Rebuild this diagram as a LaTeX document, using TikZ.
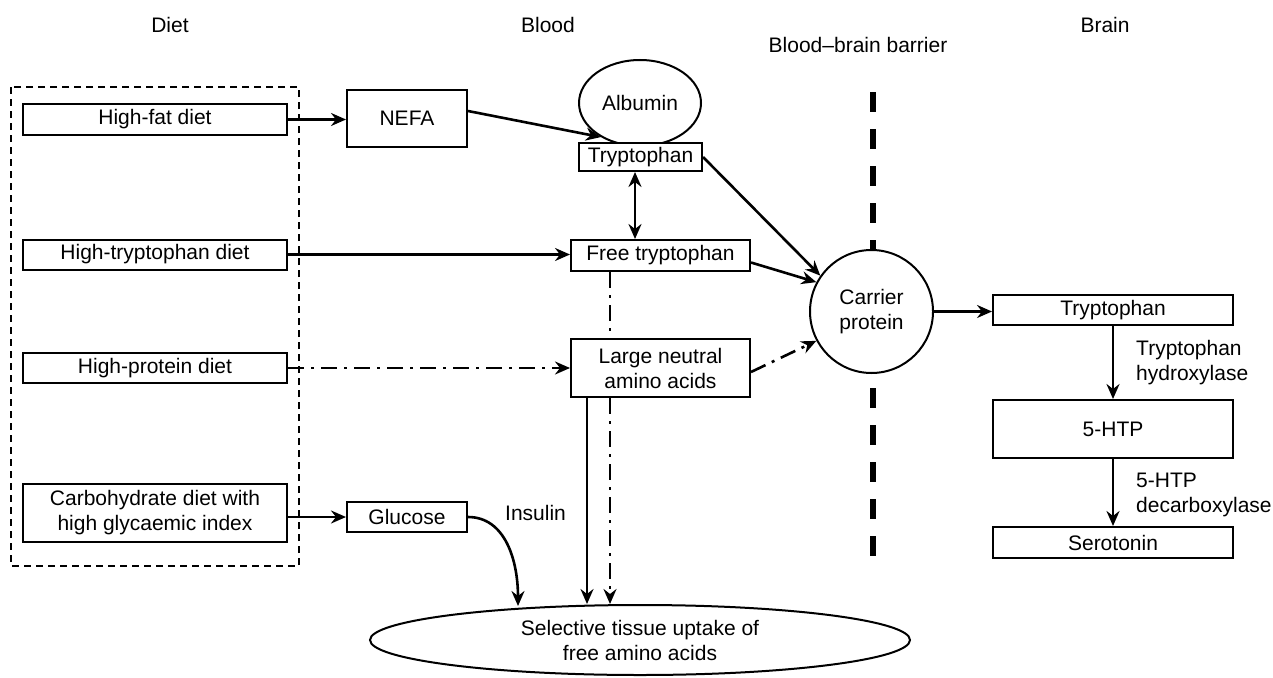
\documentclass[tikz,border=0pt]{standalone}
\usepackage{fontspec}
\setmainfont{Liberation Sans}
\usetikzlibrary{arrows.meta,shapes.geometric}
\begin{document}
\begin{tikzpicture}[x=1pt,y=-1pt,
  font=\fontsize{21}{25}\selectfont,
  box/.style={draw,line width=2pt,inner sep=0pt,align=center,fill=white},
  oval/.style={draw,line width=2pt,ellipse,inner sep=0pt,align=center,fill=white},
  tip/.style={Stealth[length=15pt,width=13pt,inset=5pt]},
  conn/.style={line width=2.6pt,-{Stealth[length=15pt,width=13pt,inset=5pt]}},
  biconn/.style={line width=2.6pt,{Stealth[length=15pt,width=13pt,inset=5pt]}-{Stealth[length=15pt,width=13pt,inset=5pt]}},
  dashdot/.style={dash pattern=on 16pt off 7pt on 3pt off 7pt},
  plainlink/.style={line width=2.6pt},
  header/.style={inner sep=0pt}]
\useasboundingbox (0,0) rectangle (1273,677);

% headers
\node[header] (hdiet) at (170,25) {Diet};
\node[header] (hblood) at (548,25) {Blood};
\node[header] (hbbb) at (858,45) {Blood–brain barrier};
\node[header] (hbrain) at (1105,25) {Brain};

% diet group
\draw[line width=2pt,dash pattern=on 7pt off 5pt] (11,87) rectangle (299,566);
\node[box,minimum width=264,minimum height=31] (hf) at (155,119.5) {High-fat diet};
\node[box,minimum width=264,minimum height=30] (ht) at (155,254.5) {High-tryptophan diet};
\node[box,minimum width=264,minimum height=30] (hp) at (155,368) {High-protein diet};
\node[box,minimum width=264,minimum height=58] (carb) at (155,513) {Carbohydrate diet with\\high glycaemic index};

% blood
\node[box,minimum width=120,minimum height=57] (nefa) at (407,118) {NEFA};
\node[box,minimum width=120,minimum height=30] (glu) at (407,517) {Glucose};
\node[oval,minimum width=122,minimum height=86] (alb) at (640,103) {Albumin};
\node[box,minimum width=123,minimum height=28] (trpb) at (640.5,157) {Tryptophan};
\node[box,minimum width=179,minimum height=31] (free) at (660.5,255.5) {Free tryptophan};
\node[box,minimum width=179,minimum height=58] (lnaa) at (660.5,368) {Large neutral\\amino acids};
\node[oval,minimum width=540,minimum height=70] (uptake) at (640,640) {Selective tissue uptake of\\free amino acids};
\node[header,anchor=west] (ins) at (505,513) {Insulin};

% barrier
\draw[line width=6pt,dash pattern=on 20pt off 17pt] (873,92) -- (873,566);
\node[oval,circle,minimum size=123] (carrier) at (871.5,311.5) {Carrier\\protein};

% brain
\node[box,minimum width=240,minimum height=30] (trpbr) at (1113,310) {Tryptophan};
\node[box,minimum width=240,minimum height=58] (htp) at (1113,429) {5-HTP};
\node[box,minimum width=240,minimum height=31] (sero) at (1113,542.5) {Serotonin};
\node[header,anchor=west,align=left] (l1) at (1136,363) {Tryptophan\\hydroxylase};
\node[header,anchor=west,align=left] (l2) at (1136,495) {5-HTP\\decarboxylase};

% helper coordinates
\coordinate (xdbl) at (635,0);
\coordinate (xdd) at (610,0);
\coordinate (xsol) at (587,0);
\coordinate (gin) at (518,606);

% connectors
\draw[conn] (hf.east) -- (hf.east -| nefa.west);
\draw[conn] ([shift={(0,-7)}]nefa.east) -- (alb.-139);
\draw[conn] (ht.east) -- (ht.east -| free.west);
\draw[conn,dashdot] (hp.east) -- (hp.east -| lnaa.west);
\draw[conn] (carb.east |- glu.west) -- (glu.west);
\draw[biconn] (trpb.south -| xdbl) -- (free.north -| xdbl);
\draw[plainlink,dashdot] (free.south -| xdd) -- (lnaa.north -| xdd);
\draw[conn] (trpb.east) -- (carrier.145);
\draw[conn] ([shift={(0,7)}]free.east) -- (carrier.152);
\draw[conn,dashdot] ([shift={(0,4)}]lnaa.east) -- (carrier.208);
\draw[conn] (lnaa.south -| xsol) -- (uptake.north -| xsol);
\draw[conn,dashdot] (lnaa.south -| xdd) -- (uptake.north -| xdd);
\draw[conn] (glu.east) .. controls (505,517) and (518,560) .. (gin);
\draw[conn] (carrier.east) -- (carrier.east -| trpbr.west);
\draw[conn] (trpbr.south) -- (htp.north);
\draw[conn] (htp.south) -- (sero.north);
\end{tikzpicture}
\end{document}
